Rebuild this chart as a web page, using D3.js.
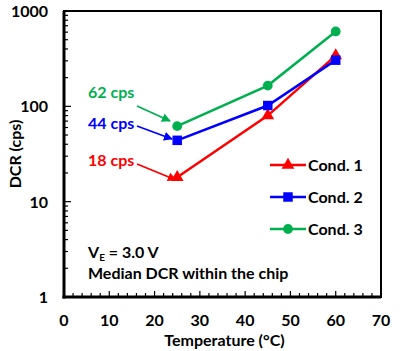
<!DOCTYPE html>
<html>
<head>
<meta charset="utf-8">
<script src="https://cdn.jsdelivr.net/npm/d3@7"></script>
<style>
  body { margin: 0; background: #fff; }
  svg { font-family: Lato, "Open Sans", sans-serif; font-weight: bold; }
</style>
</head>
<body>
<svg></svg>
<script>
const temps = [25, 45, 60];
const cond1 = [18, 80, 340];
const cond2 = [44, 102, 305];
const cond3 = [62, 165, 610];
const seriesNames = ["Cond. 1", "Cond. 2", "Cond. 3"];
const xTicks = [0, 10, 20, 30, 40, 50, 60, 70];
const yTicks = [1, 10, 100, 1000];
const callouts = ["18 cps", "44 cps", "62 cps"];

const colours = ["#ff0000", "#0000ff", "#00b050"];
const shapes = [d3.symbolTriangle, d3.symbolSquare, d3.symbolCircle];
const sizes = [70, 90, 75];

const width = 400, height = 351;
const margin = { top: 11, right: 19, bottom: 54, left: 64 };
const fs = 16;

const svg = d3.select("svg")
  .attr("width", width)
  .attr("height", height);

const x = d3.scaleLinear().domain([0, 70]).range([margin.left, width - margin.right]);
const y = d3.scaleLog().domain([1, 1000]).range([height - margin.bottom, margin.top]);

// frame
svg.append("rect")
  .attr("x", x(0)).attr("y", y(1000))
  .attr("width", x(70) - x(0)).attr("height", y(1) - y(1000))
  .attr("fill", "none").attr("stroke", "#000").attr("stroke-width", 2);

// x ticks, inward
const xMinor = d3.range(0, 71, 2);
svg.append("g").selectAll("line")
  .data(xMinor)
  .join("line")
  .attr("x1", d => x(d)).attr("x2", d => x(d))
  .attr("y1", y(1)).attr("y2", d => y(1) - (d % 10 === 0 ? 6 : 4))
  .attr("stroke", "#000").attr("stroke-width", 1.2);

svg.append("g").selectAll("text")
  .data(xTicks)
  .join("text")
  .attr("x", d => x(d)).attr("y", y(1) + 29)
  .attr("text-anchor", "middle")
  .attr("font-size", fs)
  .text(d => d);

// y ticks, inward
const yMinor = [];
[1, 10, 100].forEach(b => d3.range(1, 10).forEach(m => yMinor.push(b * m)));
yMinor.push(1000);
svg.append("g").selectAll("line")
  .data(yMinor)
  .join("line")
  .attr("y1", d => y(d)).attr("y2", d => y(d))
  .attr("x1", x(0)).attr("x2", d => x(0) + (yTicks.includes(d) ? 7 : 4))
  .attr("stroke", "#000").attr("stroke-width", 1.2);

svg.append("g").selectAll("text")
  .data(yTicks)
  .join("text")
  .attr("x", x(0) - 16).attr("y", d => y(d) + 6)
  .attr("text-anchor", "end")
  .attr("font-size", fs)
  .text(d => d);

// left and bottom thicker
svg.append("line").attr("x1", x(0)).attr("x2", x(0)).attr("y1", y(1000)).attr("y2", y(1) + 1.5)
  .attr("stroke", "#000").attr("stroke-width", 3);
svg.append("line").attr("x1", x(0) - 1.5).attr("x2", x(70)).attr("y1", y(1)).attr("y2", y(1))
  .attr("stroke", "#000").attr("stroke-width", 3);

// axis titles
svg.append("text")
  .attr("x", (x(0) + x(70)) / 2 + 2).attr("y", height - 5)
  .attr("text-anchor", "middle").attr("font-size", fs)
  .text("Temperature (°C)");

svg.append("text")
  .attr("transform", `translate(21,${(y(1) + y(1000)) / 2}) rotate(-90)`)
  .attr("text-anchor", "middle").attr("font-size", fs)
  .text("DCR (cps)");

// series
const line = d3.line().x(d => x(d[0])).y(d => y(d[1]));
const allSeries = [cond1, cond2, cond3];

allSeries.forEach((vals, i) => {
  const pts = temps.map((t, j) => [t, vals[j]]);
  svg.append("path")
    .attr("d", line(pts))
    .attr("fill", "none")
    .attr("stroke", colours[i])
    .attr("stroke-width", 2.5);
  svg.append("g").selectAll("path")
    .data(pts)
    .join("path")
    .attr("transform", d => `translate(${x(d[0])},${y(d[1])})`)
    .attr("d", d3.symbol().type(shapes[i]).size(sizes[i]))
    .attr("fill", colours[i]);
});

// callouts with arrows
const defs = svg.append("defs");
colours.forEach((c, i) => {
  defs.append("marker")
    .attr("id", "arrow" + i)
    .attr("viewBox", "0 0 10 10")
    .attr("refX", 9).attr("refY", 5)
    .attr("markerWidth", 5).attr("markerHeight", 5)
    .attr("orient", "auto")
    .append("path")
    .attr("d", "M0,0L10,5L0,10z")
    .attr("fill", c);
});

const labelY = [166, 129, 98];
const arrowStart = [[137, 164], [137, 126], [137, 106]];
const arrowEnd = [[176, 180], [172, 139], [170, 121]];
callouts.forEach((t, i) => {
  svg.append("text")
    .attr("x", 88).attr("y", labelY[i])
    .attr("font-size", fs)
    .attr("fill", colours[i])
    .text(t);
  svg.append("line")
    .attr("x1", arrowStart[i][0]).attr("y1", arrowStart[i][1])
    .attr("x2", arrowEnd[i][0]).attr("y2", arrowEnd[i][1])
    .attr("stroke", colours[i]).attr("stroke-width", 1.8)
    .attr("marker-end", `url(#arrow${i})`);
});

// legend
const legend = svg.append("g").attr("transform", "translate(270,165)");
seriesNames.forEach((name, i) => {
  const g = legend.append("g").attr("transform", `translate(0,${i * 32})`);
  g.append("line").attr("x1", 0).attr("x2", 36).attr("y1", 0).attr("y2", 0)
    .attr("stroke", colours[i]).attr("stroke-width", 2.5);
  g.append("path").attr("transform", "translate(18,0)")
    .attr("d", d3.symbol().type(shapes[i]).size(sizes[i]))
    .attr("fill", colours[i]);
  g.append("text").attr("x", 38).attr("y", 6)
    .attr("font-size", fs)
    .text(name);
});

// note
const note = svg.append("text").attr("x", 88).attr("y", 258).attr("font-size", fs);
note.append("tspan").text("V");
note.append("tspan").attr("font-size", 10).attr("dy", 3).text("E");
note.append("tspan").attr("dy", -3).text(" = 3.0 V");
svg.append("text").attr("x", 88).attr("y", 279).attr("font-size", fs)
  .text("Median DCR within the chip");
</script>
</body>
</html>
